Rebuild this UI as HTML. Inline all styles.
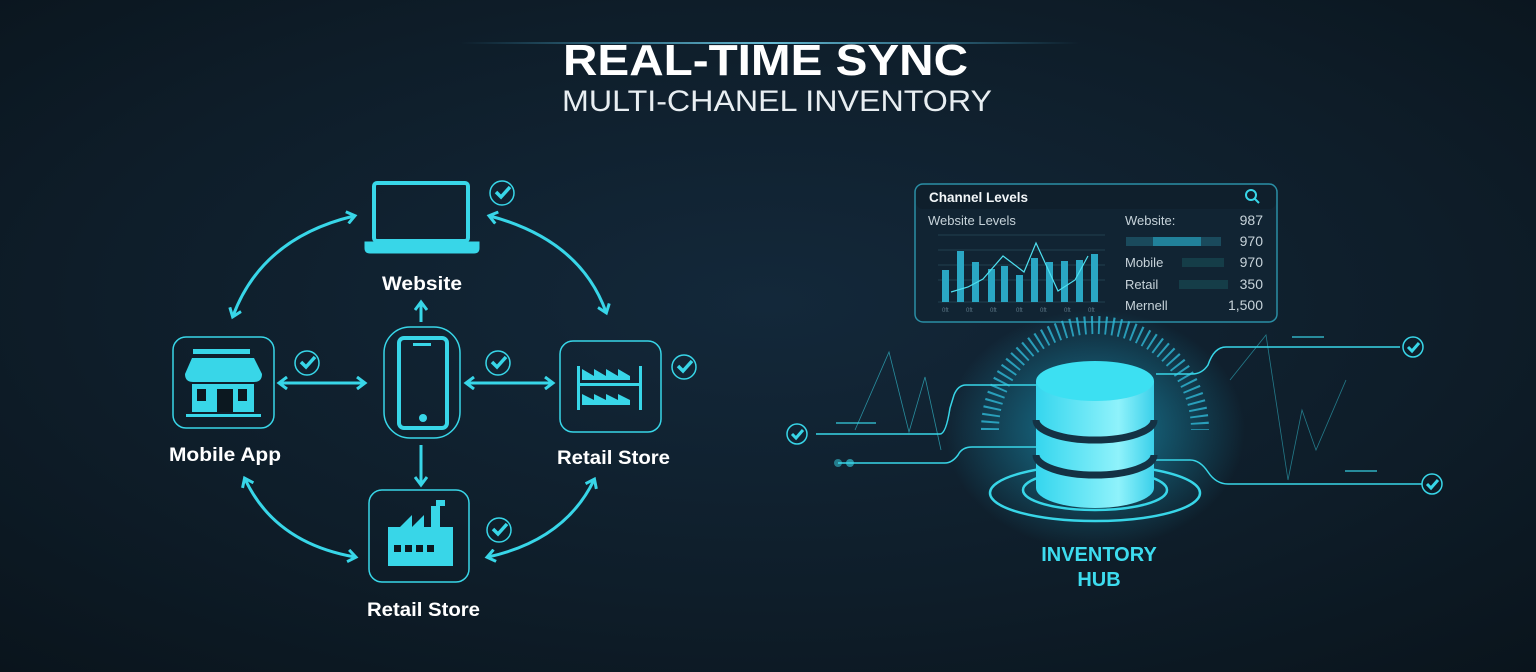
<!DOCTYPE html>
<html><head><meta charset="utf-8"><style>
html,body{margin:0;padding:0;background:#0c1820;}
svg{display:block}
text{font-family:"Liberation Sans",sans-serif}
</style></head><body>
<svg width="1536" height="672" viewBox="0 0 1536 672" xmlns="http://www.w3.org/2000/svg">
<defs>
<radialGradient id="bg" cx="50%" cy="45%" r="75%">
<stop offset="0" stop-color="#13283a"/><stop offset="0.6" stop-color="#0e1d29"/><stop offset="1" stop-color="#0a141c"/>
</radialGradient>
<radialGradient id="glow" cx="50%" cy="50%" r="50%">
<stop offset="0" stop-color="#1ec8f0" stop-opacity="0.55"/><stop offset="1" stop-color="#1ec8f0" stop-opacity="0"/>
</radialGradient>
<linearGradient id="cyl" x1="0" x2="1">
<stop offset="0" stop-color="#35d6ee"/><stop offset="0.7" stop-color="#8ff2fb"/><stop offset="1" stop-color="#3ad0ea"/>
</linearGradient>
<linearGradient id="tl" x1="0" x2="1"><stop offset="0" stop-color="#4ad0ff" stop-opacity="0"/><stop offset="0.5" stop-color="#7fe4ff" stop-opacity="0.8"/><stop offset="1" stop-color="#4ad0ff" stop-opacity="0"/></linearGradient>
<marker id="ah" markerWidth="14" markerHeight="14" refX="8" refY="7" orient="auto-start-reverse" markerUnits="userSpaceOnUse"><path d="M1,1 L9,7 L1,13" fill="none" stroke="#38d6e8" stroke-width="3"/></marker>
</defs>
<rect width="1536" height="672" fill="url(#bg)"/>
<rect x="460" y="42" width="620" height="2" fill="url(#tl)"/>
<text x="563" y="75" textLength="405" lengthAdjust="spacingAndGlyphs" font-size="44" font-weight="bold" fill="#fff">REAL-TIME SYNC</text>
<text x="562" y="111" textLength="430" lengthAdjust="spacingAndGlyphs" font-size="30" fill="#e8eef2">MULTI-CHANEL INVENTORY</text>

<g fill="none" stroke="#38d6e8" stroke-width="3">
<rect x="374" y="183" width="94" height="58" rx="3" stroke-width="4"/>
<path d="M366,243 H478 V248 Q478,252 474,252 H370 Q366,252 366,248 Z" fill="#38d6e8"/>
<rect x="384" y="327" width="76" height="111" rx="26" stroke-width="1.5"/>
<rect x="399" y="338" width="48" height="90" rx="5" stroke-width="4"/>
<rect x="173" y="337" width="101" height="91" rx="13" stroke-width="1.5"/>
<rect x="560" y="341" width="101" height="91" rx="13" stroke-width="1.5"/>
<rect x="369" y="490" width="100" height="92" rx="13" stroke-width="1.5"/>
<line x1="421" y1="322" x2="421" y2="303" marker-end="url(#ah)"/>
<line x1="421" y1="445" x2="421" y2="484" marker-end="url(#ah)"/>
<line x1="280" y1="383" x2="364" y2="383" marker-start="url(#ah)" marker-end="url(#ah)"/>
<line x1="467" y1="383" x2="552" y2="383" marker-start="url(#ah)" marker-end="url(#ah)"/>
<path d="M233,316 Q262,238 354,216" marker-start="url(#ah)" marker-end="url(#ah)"/>
<path d="M490,216 Q580,240 606,312" marker-start="url(#ah)" marker-end="url(#ah)"/>
<path d="M245,479 Q275,543 355,557" marker-start="url(#ah)" marker-end="url(#ah)"/>
<path d="M488,557 Q565,540 594,480" marker-start="url(#ah)" marker-end="url(#ah)"/>
</g>
<g fill="#38d6e8">
<rect x="413" y="343" width="18" height="3"/>
<circle cx="423" cy="418" r="4"/>
<rect x="193" y="349" width="57" height="5"/>
<path d="M185,374 L192,358 H254 L262,374 Q262,382 254,382 H193 Q185,382 185,374Z"/>
<rect x="192" y="384" width="62" height="28"/>
<rect x="186" y="414" width="75" height="3"/>
<rect x="577" y="366" width="3" height="44"/><rect x="639" y="366" width="3" height="44"/>
<rect x="577" y="383" width="65" height="3"/>
<path d="M582,380 V369 L594,376 V369 L606,376 V369 L618,376 V369 L630,376 V380Z"/>
<path d="M582,405 V394 L594,400 V394 L606,400 V394 L618,400 V394 L630,400 V405Z"/>
<path d="M388,566 V527 H400 L412,515 V527 L424,515 V527 H431 V506 H436 V500 H445 V506 H440 V527 H453 V566Z"/>
</g>
<g fill="#0c1820"><rect x="197" y="389" width="9" height="12"/><rect x="217" y="389" width="16" height="23"/><rect x="238" y="389" width="9" height="12"/>
<rect x="394" y="545" width="7" height="7"/><rect x="405" y="545" width="7" height="7"/><rect x="416" y="545" width="7" height="7"/><rect x="427" y="545" width="7" height="7"/></g>
<g font-size="19" font-weight="bold" fill="#fff">
<text x="382" y="290" textLength="80" lengthAdjust="spacingAndGlyphs">Website</text>
<text x="169" y="461" textLength="112" lengthAdjust="spacingAndGlyphs">Mobile App</text>
<text x="557" y="464" textLength="113" lengthAdjust="spacingAndGlyphs">Retail Store</text>
<text x="367" y="616" textLength="113" lengthAdjust="spacingAndGlyphs">Retail Store</text>
</g>
<g fill="none" stroke="#38d6e8">
<g stroke-width="1.5"><circle cx="502" cy="193" r="12"/><circle cx="307" cy="363" r="12"/><circle cx="498" cy="363" r="12"/><circle cx="684" cy="367" r="12"/><circle cx="499" cy="530" r="12"/></g>
<g stroke-width="3.5"><path d="M496,192 l5,5 l9,-10"/><path d="M301,362 l5,5 l9,-10"/><path d="M492,362 l5,5 l9,-10"/><path d="M678,366 l5,5 l9,-10"/><path d="M493,529 l5,5 l9,-10"/></g>
</g>

<rect x="915" y="184" width="362" height="138" rx="8" fill="#112433" stroke="#2a8ea5" stroke-width="1.5"/>
<rect x="916" y="185" width="360" height="24" rx="7" fill="#0f1f2c"/>
<text x="929" y="202" font-size="13.5" font-weight="bold" fill="#f2f6f8">Channel Levels</text>
<circle cx="1251" cy="195" r="5" fill="none" stroke="#38d6e8" stroke-width="2"/><line x1="1255" y1="199" x2="1259" y2="203" stroke="#38d6e8" stroke-width="2"/>
<text x="928" y="225" font-size="13" fill="#c7d3da">Website Levels</text>
<g stroke="#27485a" stroke-width="0.7"><line x1="938" y1="235" x2="1105" y2="235"/><line x1="938" y1="250" x2="1105" y2="250"/><line x1="938" y1="265" x2="1105" y2="265"/><line x1="938" y1="280" x2="1105" y2="280"/><line x1="938" y1="302" x2="1105" y2="302"/></g>
<g fill="#2aa7c4">
<rect x="942" y="270" width="7" height="32"/><rect x="957" y="251" width="7" height="51"/><rect x="972" y="262" width="7" height="40"/><rect x="988" y="269" width="7" height="33"/><rect x="1001" y="266" width="7" height="36"/><rect x="1016" y="275" width="7" height="27"/><rect x="1031" y="258" width="7" height="44"/><rect x="1046" y="262" width="7" height="40"/><rect x="1061" y="261" width="7" height="41"/><rect x="1076" y="260" width="7" height="42"/><rect x="1091" y="254" width="7" height="48"/>
</g>
<polyline points="951,292 968,287 983,279 1003,256 1024,272 1036,243 1058,291 1075,280 1088,256" fill="none" stroke="#4ee0f0" stroke-width="1.2"/>
<g font-size="6" fill="#5d7888"><text x="942" y="312">0ft</text><text x="966" y="312">0ft</text><text x="990" y="312">0ft</text><text x="1016" y="312">0ft</text><text x="1040" y="312">0ft</text><text x="1064" y="312">0ft</text><text x="1088" y="312">0ft</text></g>
<g font-size="13" fill="#c7d3da"><text x="1125" y="225">Website:</text><text x="1125" y="267">Mobile</text><text x="1125" y="289">Retail</text><text x="1125" y="310">Mernell</text></g>
<g font-size="14" fill="#c7d3da" text-anchor="end"><text x="1263" y="225">987</text><text x="1263" y="246">970</text><text x="1263" y="267">970</text><text x="1263" y="289">350</text><text x="1263" y="310">1,500</text></g>
<rect x="1126" y="237" width="95" height="9" fill="#1a4a5c"/><rect x="1153" y="237" width="48" height="9" fill="#21819a"/>
<rect x="1182" y="258" width="42" height="9" fill="#153d48"/><rect x="1179" y="280" width="49" height="9" fill="#153d48"/>

<ellipse cx="1095" cy="430" rx="150" ry="120" fill="url(#glow)"/>
<g stroke="#2fb8d6" stroke-width="1.2" opacity="0.8">
<path d="M1095,430 m-105,0 a105,105 0 0,1 210,0" fill="none" stroke-dasharray="2 5" stroke-width="18"/>
</g>
<g fill="none" stroke="#38d6e8" stroke-width="1.5">
<path d="M1036,385 H966 Q958,385 954,395 L950,408 Q946,434 940,434 H816"/>
<path d="M1036,447 H972 Q962,447 958,455 Q952,463 945,463 H838"/>
<path d="M1156,374 H1192 Q1202,374 1208,365 Q1214,347 1226,347 H1400"/>
<path d="M1156,460 H1190 Q1200,460 1208,472 Q1216,484 1228,484 H1422"/>
<polyline points="855,430 889,352 909,432 925,377 941,450" stroke-width="0.8" opacity="0.6"/>
<polyline points="1230,380 1266,335 1288,480 1302,410 1316,450 1346,380" stroke-width="0.8" opacity="0.5"/>
</g>
<g fill="#38d6e8"><circle cx="838" cy="463" r="4" opacity="0.5"/><circle cx="850" cy="463" r="4" opacity="0.6"/>
<rect x="836" y="422" width="40" height="2" opacity="0.6"/><rect x="1292" y="336" width="32" height="2" opacity="0.6"/><rect x="1345" y="470" width="32" height="2" opacity="0.6"/></g>
<g fill="none" stroke="#38d6e8" stroke-width="1.5"><circle cx="797" cy="434" r="10"/><circle cx="1413" cy="347" r="10"/><circle cx="1432" cy="484" r="10"/></g>
<g fill="none" stroke="#38d6e8" stroke-width="3"><path d="M792,434 l4,4 l7,-8"/><path d="M1408,347 l4,4 l7,-8"/><path d="M1427,484 l4,4 l7,-8"/></g>
<g fill="none" stroke="#38d6e8" stroke-width="2.5">
<ellipse cx="1095" cy="493" rx="105" ry="28"/>
<ellipse cx="1095" cy="490" rx="72" ry="20"/>
<ellipse cx="1095" cy="489" rx="55" ry="14"/>
</g>
<path d="M1036,381 V488 A59,20 0 0,0 1154,488 V381Z" fill="url(#cyl)"/>
<ellipse cx="1095" cy="381" rx="59" ry="20" fill="#3ce0f2"/>
<path d="M1036,420 A59,20 0 0,0 1154,420" fill="none" stroke="#143244" stroke-width="7"/>
<path d="M1036,455 A59,20 0 0,0 1154,455" fill="none" stroke="#143244" stroke-width="7"/>
<g font-size="20" font-weight="bold" fill="#3ddcef" text-anchor="middle"><text x="1099" y="561">INVENTORY</text><text x="1099" y="586">HUB</text></g>
</svg>
</body></html>
